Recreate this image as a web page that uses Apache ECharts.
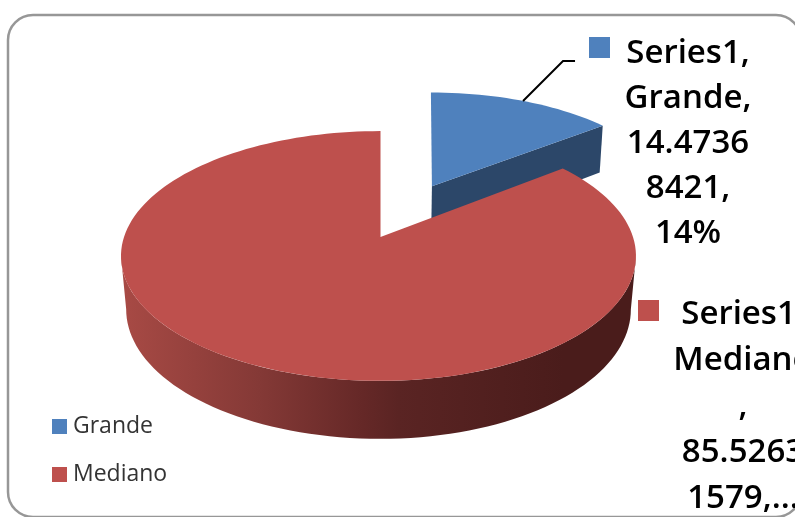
<!DOCTYPE html>
<html>
<head>
<meta charset="utf-8">
<style>html,body{margin:0;padding:0;background:#fff}#chart{width:795px;height:517px}</style>
<script src="https://cdn.jsdelivr.net/npm/echarts@6/dist/echarts.min.js"></script>
</head>
<body>
<div id="chart"></div>
<script>
// Size of each slice, in percent
const categories = ['Grande', 'Mediano'];
const values = [14.47368421, 85.52631579];
const topColors = ['#4F81BD', '#BE504D'];
const labelLines = [
  ['Series1,', 'Grande,', '14.4736', '8421,', '14%'],
  ['Series1,', 'Mediano', ',', '85.5263', '1579,...']
];

// Camera: pie apex on screen, radii of the tilted disc and perspective strength
const CX = 380.5, CY = 237, RX_LEFT = 256.5, RX_RIGHT = 252.5, RY = 122, PERSP = 0.152;
const DEPTH = 52.5, DEPTH_SLOPE = 5.5;
const DEG = Math.PI / 180;
const total = values.reduce((a, b) => a + b, 0);

const sliceView = [
  { explode: 0.495, taper: 0.986, skew: 5.4 },
  { explode: 0, taper: 0.98, skew: 0 }
];
const labelView = [
  { textX: 688, textY: 31, keyX: 589, keyY: 37, lineHeight: 45 },
  { textX: 743, textY: 292, keyX: 638, keyY: 300, lineHeight: 46 }
];

// Projects a point of the unit disc (angle clockwise from 12 o'clock, radius r)
function project(angle, r, view, drop) {
  const bis = view.bisector * DEG;
  const lu = r * Math.sin(angle * DEG), lv = -r * Math.cos(angle * DEG);
  const u = lu + view.explode * Math.sin(bis);
  const v = lv - view.explode * Math.cos(bis);
  const w = 1 - PERSP * v;
  const scale = drop ? view.taper : 1;
  const rx = u < 0 ? RX_LEFT : RX_RIGHT;
  return [
    CX + rx * u / w * scale - view.skew * lv,
    CY + RY * v / w + (drop ? DEPTH + DEPTH_SLOPE * v : 0)
  ];
}

function arc(from, to, view, drop) {
  const pts = [];
  const n = Math.max(2, Math.ceil(Math.abs(to - from) / 2));
  for (let i = 0; i <= n; i++) pts.push(project(from + (to - from) * i / n, 1, view, drop));
  return pts;
}

function renderSlice(index) {
  return function (params, api) {
    const start = values.slice(0, index).reduce((a, b) => a + b, 0) / total * 360;
    const end = start + api.value(0) / total * 360;
    const view = Object.assign({ bisector: (start + end) / 2 }, sliceView[index]);
    const color = topColors[index];
    const apex = project(0, 0, view, false);
    const apexLow = project(0, 0, view, true);
    const children = [];

    if (index === 0) {
      // Dark cut face on the clockwise edge of the exploded slice
      children.push({
        type: 'polygon',
        shape: { points: [apex, project(end, 1, view, false), project(end, 1, view, true), apexLow] },
        style: { fill: '#2C4769' }
      });
    } else {
      // Curved outer wall between the two silhouette tangents, lit from the left
      const wallFrom = 98.7, wallTo = 261.3;
      const wall = arc(wallFrom, wallTo, view, false).concat(arc(wallTo, wallFrom, view, true));
      children.push({
        type: 'polygon',
        shape: { points: wall },
        style: {
          fill: {
            type: 'linear', x: 1, y: 0, x2: 0, y2: 0,
            colorStops: [
              { offset: 0, color: '#4A1C1B' },
              { offset: 0.14, color: '#4A1C1B' },
              { offset: 0.46, color: '#5A2423' },
              { offset: 0.53, color: '#652827' },
              { offset: 0.73, color: '#843936' },
              { offset: 1, color: '#A84A45' }
            ]
          }
        }
      });
    }

    // Top face of the slice
    children.push({
      type: 'polygon',
      shape: { points: [apex].concat(arc(start, end, view, false)) },
      style: { fill: color }
    });

    // Data label with its colour key
    const lv = labelView[index];
    children.push({
      type: 'rect',
      shape: { x: lv.keyX, y: lv.keyY, width: 21, height: 21 },
      style: { fill: color }
    });
    children.push({
      type: 'text',
      style: {
        x: lv.textX, y: lv.textY,
        text: labelLines[index].join('\n'),
        fill: '#000',
        align: 'center', verticalAlign: 'top',
        lineHeight: lv.lineHeight,
        fontFamily: 'Open Sans', fontWeight: 600, fontSize: 33
      }
    });

    // Leader line from the rim of the exploded slice to its label
    if (index === 0) {
      const anchor = project(view.bisector, 1, view, false);
      children.push({
        type: 'polyline',
        shape: { points: [anchor, [anchor[0] + 40, anchor[1] - 40], [anchor[0] + 52, anchor[1] - 40]] },
        style: { stroke: '#000', lineWidth: 2, fill: 'none' }
      });
    }
    return { type: 'group', children };
  };
}

const chart = echarts.init(document.getElementById('chart'), null, { renderer: 'canvas' });
chart.setOption({
  animation: false,
  backgroundColor: '#fff',
  graphic: [{
    type: 'rect',
    silent: true,
    z: -1,
    shape: { x: 8, y: 15, width: 793, height: 502, r: 25 },
    style: { fill: '#fff', stroke: '#979797', lineWidth: 2.5 }
  }],
  legend: {
    orient: 'vertical',
    left: 47,
    top: 410,
    icon: 'rect',
    itemWidth: 15,
    itemHeight: 15,
    itemGap: 25,
    data: categories,
    textStyle: { fontFamily: 'Open Sans', fontSize: 23, color: '#333', padding: [0, 0, 0, 1] },
    selectedMode: false
  },
  series: categories.map((name, i) => ({
    type: 'custom',
    name,
    coordinateSystem: 'none',
    z: 2 + i,
    silent: true,
    itemStyle: { color: topColors[i] },
    data: [[values[i]]],
    renderItem: renderSlice(i)
  }))
});
</script>
</body>
</html>
